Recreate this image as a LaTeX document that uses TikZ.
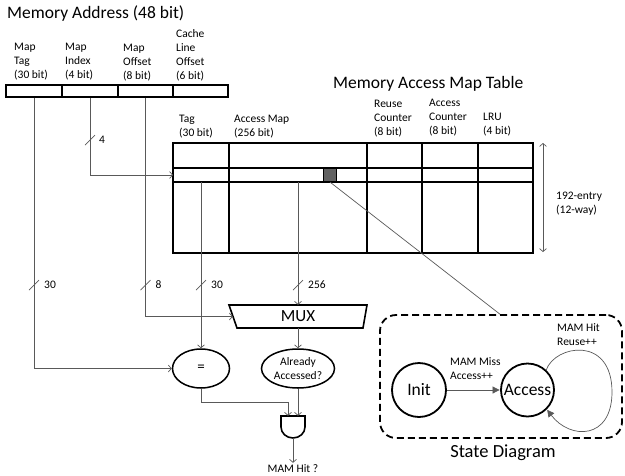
\documentclass[tikz,border=0pt]{standalone}
\usepackage{fontspec}
\setmainfont{Carlito}
\usetikzlibrary{arrows.meta,shapes.geometric,calc}
\begin{document}
\begin{tikzpicture}[x=1pt,y=-1pt,
  lbl/.style={font=\fontsize{11.5}{14}\selectfont, align=left, anchor=north west, inner sep=0pt},
  ttl/.style={font=\fontsize{17.5}{20}\selectfont, anchor=west, inner sep=0pt},
  wire/.style={draw=black!65, line width=0.7pt},
  arr/.style={wire, -{Straight Barb[length=3pt,width=7pt]}},
  box/.style={draw=black, line width=1.6pt},
  field/.style={box, minimum height=12, inner sep=0pt},
  buslbl/.style={font=\fontsize{11.5}{13}\selectfont, anchor=west, inner sep=0pt},
  state/.style={circle, draw=black, line width=1.8pt, inner sep=0pt, font=\fontsize{17.5}{20}\selectfont},
  sarr/.style={wire, -{Triangle[length=7pt,width=7pt]}, shorten >=0.5pt},
]
\useasboundingbox (0,0) rectangle (625,475);

% ---------- memory address ----------
\node[ttl] (mtitle) at (7,14) {Memory Address (48 bit)};
\node[field, minimum width=56] (ftag) at (34,91) {};
\node[field, minimum width=56] (fidx) at (90,91) {};
\node[field, minimum width=55] (foff) at (145.5,91) {};
\node[field, minimum width=55] (fcl) at (200.5,91) {};
\node[lbl] (ltag) at (14,43) {Map\\Tag\\(30 bit)};
\node[lbl] (lidx) at (65,43) {Map\\Index\\(4 bit)};
\node[lbl] (loff) at (123,44) {Map\\Offset\\(8 bit)};
\node[lbl] (lcl) at (176,29) {Cache\\Line\\Offset\\(6 bit)};

% ---------- table ----------
\node[ttl] (ttitle) at (333,84) {Memory Access Map Table};
\node[box, minimum width=360, minimum height=110, inner sep=0pt] (tbl) at (353,198) {};
\draw[box] (173,168) -- (533,168) (173,182) -- (533,182);
\draw[box] (229,143) -- (229,253) (367,143) -- (367,253) (422,143) -- (422,253) (478,143) -- (478,253);
\node[draw=black, line width=1.2pt, fill=black!62, minimum width=13, minimum height=13, inner sep=0pt] (bitsq) at (330,175) {};
\node[lbl] (htag) at (179,115) {Tag\\(30 bit)};
\node[lbl] (ham) at (234,115) {Access Map\\(256 bit)};
\node[lbl] (hreuse) at (374,100) {Reuse\\Counter\\(8 bit)};
\node[lbl] (hacc) at (429,99) {Access\\Counter\\(8 bit)};
\node[lbl] (hlru) at (483,113) {LRU\\(4 bit)};
\coordinate (rowin) at (173,175);
\coordinate (tagout) at (201,182);
\coordinate (amout) at (298,182);
\coordinate (ent1) at (543,143);
\coordinate (ent2) at (543,252);
\draw[wire, {Straight Barb[length=3pt,width=7pt]}-{Straight Barb[length=3pt,width=7pt]}] (ent1) -- (ent2);
\node[lbl] (entlbl) at (556,192) {192-entry\\(12-way)};

% ---------- logic ----------
\node[minimum width=130, minimum height=23, inner sep=0pt, font=\fontsize{17}{18}\selectfont] (mux) at (298,316.5) {MUX};
\draw[box] (229,305) -- (367,305) -- (363,328) -- (237,328) -- cycle;
\node[ellipse, draw=black, line width=1.5pt, minimum width=57, minimum height=39, inner sep=0pt, font=\fontsize{15}{16}\selectfont] (eq) at (201,368.5) {=};
\node[ellipse, draw=black, line width=1.5pt, minimum width=73, minimum height=39, inner sep=0pt, align=center, font=\fontsize{11.5}{14}\selectfont] (alr) at (298,368.5) {Already\\Accessed?};
\node[minimum width=24, minimum height=22, inner sep=0pt] (andg) at (293,427) {};
\draw[box] (281,416) -- (305,416) -- (305,427) arc[start angle=0, end angle=180, x radius=12, y radius=11] -- cycle;
\node[font=\fontsize{11.5}{13}\selectfont, inner sep=0pt] (hit) at (293,469) {MAM Hit ?};

% wires
\coordinate (busy) at (0,285);
\draw[arr] (ftag.south) |- (eq.west);
\draw[arr] (fidx.south) |- (rowin);
\draw[arr] (foff.south) |- (mux.west);
\draw[arr] (tagout) -- (eq.north);
\draw[arr] (amout) -- (mux.north);
\draw[arr] (mux.south) -- (alr.north);
\draw[arr] (eq.south) |- ($(andg.north)+(-5,-13)$) -- ($(andg.north)+(-5,0)$);
\draw[arr] (alr.south) -- ($(andg.north)+(5,0)$);
\draw[arr] (andg.south) -- ($(hit.north)+(0,-2)$);
\draw[wire] (bitsq.south) -- (501,315);

% bus marks
\foreach \nm/\lab in {ftag/30, foff/8, tagout/30, amout/256}{
  \draw[wire] ($(\nm |- busy)+(-5,5)$) -- ++(10,-10);
  \node[buslbl] at ($(\nm |- busy)+(10,0)$) {\lab};
}
\coordinate (busi) at (0,140);
\draw[wire] ($(fidx.south |- busi)+(-5,5)$) -- ++(10,-10);
\node[buslbl] at ($(fidx.south |- busi)+(9,0)$) {4};

% ---------- state diagram ----------
\node[draw=black, line width=1.8pt, dash pattern=on 7pt off 4pt, rounded corners=16pt, minimum width=242, minimum height=123, inner sep=0pt] (sd) at (501,376.5) {};
\node[state, minimum size=54] (init) at (419,390) {Init};
\node[state, minimum size=53] (access) at (527.5,390) {Access};
\draw[sarr] (init) -- (access);
\node[lbl] (misslbl) at (450,357) {MAM Miss\\Access++};
\draw[sarr] (access.47) .. controls (555,345) and (612,335) .. (612,392) .. controls (612,440) and (570,440) .. (access.-45);
\node[lbl] (hitlbl) at (557,323) {MAM Hit\\Reuse++};
\node[font=\fontsize{18.5}{20}\selectfont, inner sep=0pt] (sdlbl) at (503,453) {State Diagram};
\end{tikzpicture}
\end{document}
